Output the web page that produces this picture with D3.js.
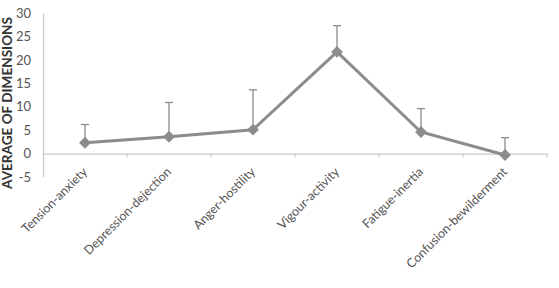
<!DOCTYPE html>
<html>
<head>
    <script src="https://cdnjs.cloudflare.com/ajax/libs/d3/7.8.5/d3.min.js"></script>
    <style>
        body { margin: 0; background: #fff; }
        text { font-family: Lato, 'Open Sans', sans-serif; }
    </style>
</head>
<body>
    <div id="root"></div>
    <script>
        const categories = ['Tension-anxiety', 'Depression-dejection', 'Anger-hostility', 'Vigour-activity', 'Fatigue-inertia', 'Confusion-bewilderment']
        const means = [2.3, 3.6, 5.1, 21.7, 4.6, -0.3]
        const errs = [3.9, 7.3, 8.5, 5.6, 5.0, 3.7]
        const yTicks = [-5, 0, 5, 10, 15, 20, 25, 30]

        const W = 559, H = 288
        const plotL = 43, plotR = 547, plotT = 13, plotB = 177

        const svg = d3.select('#root').append('svg')
            .attr('width', W).attr('height', H)

        const x = d3.scaleBand().domain(categories).range([plotL, plotR])
        const y = d3.scaleLinear().domain([-5, 30]).range([plotB, plotT])
        const grey = '#8c8c8c'

        // y axis
        const yAxis = svg.append('g')
            .attr('transform', `translate(${plotL},0)`)
            .call(d3.axisLeft(y).tickValues(yTicks).tickSize(0).tickPadding(12).tickFormat(d => String(d)))
        yAxis.select('.domain').attr('stroke', '#c8c8c8').attr('stroke-width', 1.2)
        yAxis.selectAll('text').attr('font-size', 13).attr('fill', '#555')

        // x axis at zero
        const xAxis = svg.append('g')
            .attr('transform', `translate(0,${y(0)})`)
            .call(d3.axisBottom(x).tickSize(0).tickFormat(''))
        xAxis.select('.domain').attr('stroke', '#c8c8c8').attr('stroke-width', 1.2)
        const bounds = categories.map(c => x(c) + x.bandwidth())
        svg.selectAll('.xtick').data(bounds).enter().append('line')
            .attr('x1', d => d).attr('x2', d => d)
            .attr('y1', y(0)).attr('y2', y(0) + 4)
            .attr('stroke', '#c8c8c8').attr('stroke-width', 1.2)

        // category labels
        svg.selectAll('.clabel').data(categories).enter().append('text')
            .attr('transform', d => `translate(${x(d) + x.bandwidth() / 2 + 3},${y(0) + 19}) rotate(-45)`)
            .attr('text-anchor', 'end')
            .attr('font-size', 12.5)
            .attr('fill', '#555')
            .text(d => d)

        // y title
        svg.append('text')
            .attr('transform', `translate(12,103) rotate(-90)`)
            .attr('text-anchor', 'middle')
            .attr('font-size', 12.5)
            .attr('font-weight', 'bold')
            .attr('fill', '#333')
            .attr('textLength', 172)
            .attr('lengthAdjust', 'spacingAndGlyphs')
            .text('AVERAGE OF DIMENSIONS')

        const cx = d => x(d) + x.bandwidth() / 2

        // error bars (plus only)
        const eb = svg.selectAll('.err').data(categories).enter().append('g')
        eb.append('line')
            .attr('x1', d => cx(d)).attr('x2', d => cx(d))
            .attr('y1', (d, i) => y(means[i])).attr('y2', (d, i) => y(means[i] + errs[i]))
            .attr('stroke', grey).attr('stroke-width', 1.3)
        eb.append('line')
            .attr('x1', d => cx(d) - 4).attr('x2', d => cx(d) + 4)
            .attr('y1', (d, i) => y(means[i] + errs[i])).attr('y2', (d, i) => y(means[i] + errs[i]))
            .attr('stroke', grey).attr('stroke-width', 1.3)

        // line
        const line = d3.line().x((d, i) => cx(categories[i])).y(d => y(d))
        svg.append('path').datum(means)
            .attr('d', line)
            .attr('fill', 'none')
            .attr('stroke', grey)
            .attr('stroke-width', 3)

        // markers
        svg.selectAll('.mk').data(means).enter().append('path')
            .attr('d', d3.symbol(d3.symbolDiamond2, 90))
            .attr('transform', (d, i) => `translate(${cx(categories[i])},${y(d)})`)
            .attr('fill', grey)
    </script>
</body>
</html>
